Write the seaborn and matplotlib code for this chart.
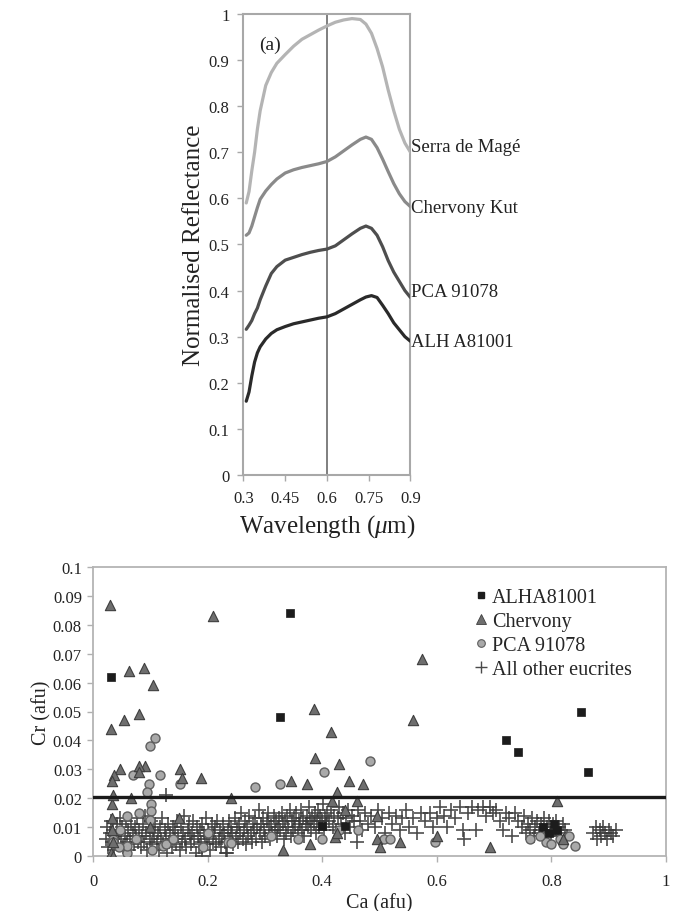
import numpy as np
import pandas as pd
import matplotlib
matplotlib.use("Agg")
import matplotlib.pyplot as plt
import seaborn as sns
from matplotlib.lines import Line2D

# ---------------- spectra (panel a) ----------------
wavelength = [0.31, 0.32, 0.33, 0.34, 0.35, 0.36, 0.38, 0.40, 0.42, 0.45, 0.48, 0.51,
              0.54, 0.57, 0.60, 0.63, 0.66, 0.69, 0.72, 0.74, 0.76, 0.78, 0.80, 0.82,
              0.84, 0.86, 0.88, 0.90]
serra_de_mage = [0.590, 0.615, 0.660, 0.700, 0.750, 0.790, 0.845, 0.873, 0.893, 0.912, 0.930, 0.945,
                 0.955, 0.965, 0.974, 0.982, 0.987, 0.990, 0.988, 0.978, 0.958, 0.925, 0.885, 0.835,
                 0.790, 0.750, 0.720, 0.700]
chervony_kut = [0.520, 0.525, 0.540, 0.560, 0.580, 0.598, 0.616, 0.630, 0.642, 0.655, 0.662, 0.667,
                0.671, 0.675, 0.680, 0.690, 0.703, 0.716, 0.728, 0.733, 0.728, 0.710, 0.685, 0.658,
                0.632, 0.610, 0.593, 0.582]
pca_91078 = [0.316, 0.325, 0.335, 0.350, 0.362, 0.380, 0.410, 0.437, 0.452, 0.466, 0.472, 0.478,
             0.483, 0.487, 0.490, 0.497, 0.510, 0.523, 0.535, 0.540, 0.535, 0.520, 0.495, 0.465,
             0.440, 0.420, 0.400, 0.385]
alh_a81001 = [0.160, 0.180, 0.215, 0.245, 0.265, 0.278, 0.295, 0.307, 0.315, 0.322, 0.328, 0.332,
              0.336, 0.340, 0.343, 0.350, 0.360, 0.370, 0.380, 0.386, 0.389, 0.385, 0.368, 0.350,
              0.330, 0.315, 0.300, 0.290]
spectra_names = ["Serra de Magé", "Chervony Kut", "PCA 91078", "ALH A81001"]
spectra_colors = ["#b4b4b4", "#8a8a8a", "#4e4e4e", "#2a2a2a"]
spectra_label_y = [0.712, 0.581, 0.399, 0.289]

# ---------------- Cr vs Ca (panel b) ----------------
alha_ca = [0.031, 0.343, 0.327, 0.851, 0.720, 0.742, 0.863, 0.399, 0.440,
           0.785, 0.795, 0.805, 0.810]
alha_cr = [0.062, 0.084, 0.048, 0.050, 0.040, 0.036, 0.029, 0.0105, 0.0105,
           0.010, 0.008, 0.011, 0.009]

chervony_ca = [0.030, 0.210, 0.062, 0.089, 0.105, 0.574, 0.559, 0.031, 0.054, 0.081, 0.386,
               0.415, 0.387, 0.429, 0.447, 0.471, 0.374, 0.346, 0.189, 0.152, 0.155, 0.090,
               0.080, 0.081, 0.047, 0.037, 0.033, 0.426, 0.033, 0.035, 0.066, 0.240, 0.417,
               0.460, 0.809, 0.033, 0.033, 0.035, 0.032, 0.034, 0.332, 0.379, 0.422, 0.425,
               0.495, 0.501, 0.536, 0.601, 0.692, 0.495, 0.440, 0.150, 0.100, 0.820, 0.800]
chervony_cr = [0.087, 0.083, 0.064, 0.065, 0.059, 0.068, 0.047, 0.044, 0.047, 0.049, 0.051,
               0.043, 0.034, 0.032, 0.026, 0.025, 0.025, 0.026, 0.027, 0.030, 0.027, 0.031,
               0.031, 0.029, 0.030, 0.028, 0.026, 0.022, 0.018, 0.021, 0.020, 0.020, 0.019,
               0.019, 0.019, 0.013, 0.009, 0.005, 0.001, 0.000, 0.002, 0.004, 0.0065, 0.008,
               0.006, 0.003, 0.005, 0.007, 0.003, 0.014, 0.016, 0.013, 0.010, 0.006, 0.009]

pca_ca = [0.109, 0.0995, 0.403, 0.483, 0.070, 0.117, 0.097, 0.152, 0.282, 0.326, 0.094,
          0.102, 0.102, 0.059, 0.081, 0.047, 0.100, 0.0345, 0.035, 0.059, 0.103, 0.122,
          0.128, 0.1925, 0.236, 0.241, 0.358, 0.399, 0.463, 0.507, 0.518, 0.597, 0.763,
          0.790, 0.800, 0.815, 0.820, 0.830, 0.841, 0.780, 0.060, 0.045, 0.075, 0.140,
          0.200, 0.310, 0.430]
pca_cr = [0.041, 0.038, 0.029, 0.033, 0.028, 0.028, 0.025, 0.025, 0.024, 0.025, 0.022,
          0.018, 0.0156, 0.014, 0.015, 0.009, 0.0125, 0.006, 0.005, 0.001, 0.002, 0.0035,
          0.004, 0.003, 0.0047, 0.0045, 0.006, 0.006, 0.009, 0.006, 0.006, 0.005, 0.006,
          0.005, 0.004, 0.006, 0.004, 0.007, 0.0036, 0.007, 0.0035, 0.003, 0.006, 0.006,
          0.008, 0.007, 0.009]

other_ca = [
    0.022, 0.025, 0.027, 0.029, 0.031, 0.033, 0.035, 0.037, 0.039, 0.041, 0.043, 0.045, 0.047, 0.049,
    0.051, 0.053, 0.055, 0.057, 0.059, 0.061, 0.063, 0.065, 0.067, 0.069, 0.071, 0.073, 0.075, 0.077, 0.079,
    0.081, 0.083, 0.085, 0.087, 0.089, 0.091, 0.093, 0.095, 0.097, 0.099, 0.101, 0.103, 0.105, 0.107, 0.109,
    0.111, 0.113, 0.115, 0.117, 0.119, 0.121, 0.123, 0.125, 0.127, 0.129, 0.131, 0.133, 0.135, 0.137, 0.139,
    0.141, 0.143, 0.145, 0.147, 0.149, 0.151, 0.153, 0.155, 0.157, 0.159, 0.161, 0.163, 0.165, 0.167, 0.169,
    0.171, 0.173, 0.175, 0.177, 0.179, 0.181, 0.183, 0.185, 0.187, 0.189, 0.191, 0.193, 0.195, 0.197, 0.199,
    0.201, 0.203, 0.205, 0.207, 0.209, 0.211, 0.213, 0.215, 0.217, 0.219, 0.221, 0.223, 0.225, 0.227, 0.229,
    0.231, 0.233, 0.235, 0.237, 0.239, 0.241, 0.243, 0.245, 0.247, 0.249, 0.251, 0.253, 0.255, 0.257, 0.259,
    0.261, 0.263, 0.265, 0.267, 0.269, 0.271, 0.273, 0.275, 0.277, 0.279, 0.281, 0.283, 0.285, 0.287, 0.289,
    0.291, 0.293, 0.295, 0.297, 0.299, 0.301, 0.303, 0.305, 0.307, 0.309, 0.311, 0.313, 0.315, 0.317, 0.319,
    0.321, 0.323, 0.325, 0.327, 0.329, 0.331, 0.333, 0.335, 0.337, 0.339, 0.341, 0.343, 0.345, 0.347, 0.349,
    0.351, 0.353, 0.355, 0.357, 0.359, 0.361, 0.363, 0.365, 0.367, 0.369, 0.371, 0.373, 0.375, 0.377, 0.379,
    0.381, 0.383, 0.385, 0.387, 0.389, 0.391, 0.393, 0.395, 0.397, 0.399, 0.401, 0.403, 0.405, 0.407, 0.409,
    0.412, 0.415, 0.418, 0.421, 0.424, 0.427, 0.430, 0.433, 0.436, 0.439, 0.442, 0.445, 0.448, 0.452, 0.456,
    0.462, 0.466, 0.470, 0.475, 0.480, 0.486, 0.492, 0.498, 0.505, 0.510, 0.516, 0.522, 0.528, 0.535, 0.540,
    0.546, 0.552, 0.558, 0.565, 0.572, 0.580, 0.588, 0.594, 0.600,
    0.605, 0.612, 0.618, 0.625, 0.632, 0.640, 0.645, 0.648, 0.655, 0.662, 0.668, 0.672, 0.680, 0.686,
    0.692, 0.698, 0.704, 0.710, 0.716, 0.720, 0.726, 0.732, 0.736, 0.742, 0.748, 0.752, 0.756,
    0.760, 0.763, 0.766, 0.769, 0.772, 0.775, 0.778, 0.781, 0.784, 0.787, 0.790, 0.793, 0.796, 0.799,
    0.802, 0.805, 0.808, 0.811, 0.814, 0.817, 0.820, 0.824, 0.828,
    0.873, 0.877, 0.880, 0.884, 0.887, 0.890, 0.893, 0.897, 0.900, 0.904, 0.908, 0.912,
    0.128, 0.460, 0.232, 0.190,
]
other_cr = [
    0.006, 0.010, 0.003, 0.008, 0.012, 0.005, 0.009, 0.002, 0.007, 0.011, 0.004, 0.008, 0.013, 0.006,
    0.010, 0.003, 0.007, 0.012, 0.005, 0.009, 0.002, 0.006, 0.011, 0.008, 0.004, 0.010, 0.007, 0.013, 0.005,
    0.009, 0.003, 0.007, 0.011, 0.005, 0.014, 0.008, 0.002, 0.010, 0.006, 0.012, 0.004, 0.009, 0.007, 0.011,
    0.005, 0.008, 0.002, 0.010, 0.006, 0.013, 0.004, 0.009, 0.007, 0.001, 0.011, 0.005, 0.008, 0.003, 0.010,
    0.006, 0.009, 0.004, 0.012, 0.007, 0.002, 0.010, 0.005, 0.008, 0.014, 0.006, 0.003, 0.009, 0.011, 0.007,
    0.004, 0.008, 0.012, 0.006, 0.001, 0.010, 0.007, 0.003, 0.009, 0.005, 0.011, 0.008, 0.006, 0.013, 0.004,
    0.009, 0.007, 0.002, 0.011, 0.005, 0.008, 0.010, 0.004, 0.012, 0.006, 0.009, 0.003, 0.007, 0.011, 0.008,
    0.005, 0.001, 0.009, 0.012, 0.006, 0.010, 0.008, 0.004, 0.013, 0.007, 0.010, 0.005, 0.011, 0.008, 0.015,
    0.006, 0.009, 0.012, 0.004, 0.010, 0.007, 0.014, 0.008, 0.005, 0.011, 0.009, 0.013, 0.006, 0.010, 0.016,
    0.008, 0.011, 0.005, 0.013, 0.009, 0.007, 0.012, 0.015, 0.010, 0.006, 0.011, 0.008, 0.014, 0.009, 0.012,
    0.007, 0.010, 0.013, 0.009, 0.015, 0.011, 0.006, 0.012, 0.008, 0.014, 0.010, 0.016, 0.007, 0.012, 0.009,
    0.013, 0.010, 0.015, 0.008, 0.012, 0.011, 0.016, 0.009, 0.013, 0.007, 0.011, 0.014, 0.010, 0.017, 0.012,
    0.009, 0.013, 0.011, 0.015, 0.008, 0.012, 0.016, 0.010, 0.014, 0.012, 0.018, 0.009, 0.013, 0.011, 0.015,
    0.012, 0.016, 0.010, 0.014, 0.009, 0.013, 0.017, 0.011, 0.015, 0.008, 0.013, 0.016, 0.010, 0.014, 0.012,
    0.016, 0.012, 0.009, 0.015, 0.011, 0.014, 0.010, 0.016, 0.013, 0.008, 0.015, 0.011, 0.014, 0.009, 0.013,
    0.016, 0.010, 0.013, 0.008, 0.015, 0.012, 0.015, 0.010, 0.013,
    0.017, 0.014, 0.010, 0.016, 0.013, 0.017, 0.009, 0.006, 0.015, 0.017, 0.009, 0.016, 0.017, 0.014,
    0.017, 0.015, 0.016, 0.012, 0.009, 0.015, 0.013, 0.007, 0.015, 0.012, 0.010, 0.014, 0.008,
    0.011, 0.009, 0.013, 0.007, 0.010, 0.012, 0.008, 0.011, 0.009, 0.013, 0.007, 0.010, 0.012, 0.008,
    0.011, 0.009, 0.012, 0.007, 0.010, 0.008, 0.011, 0.009, 0.007,
    0.008, 0.010, 0.006, 0.009, 0.007, 0.010, 0.008, 0.006, 0.009, 0.008, 0.007, 0.009,
    0.021, 0.005, 0.001, 0.000,
]
cr_threshold = 0.0205

series_names = ["ALHA81001", "Chervony", "PCA 91078", "All other eucrites"]

# ---------------- styling ----------------
sns.set_theme(style="white")
plt.rcParams["font.family"] = ["Liberation Serif", "DejaVu Serif"]
plt.rcParams["mathtext.fontset"] = "custom"
plt.rcParams["mathtext.rm"] = "Liberation Serif"
plt.rcParams["mathtext.it"] = "Liberation Serif:italic"

fig = plt.figure(figsize=(6.78, 9.12), dpi=100)
ax1 = fig.add_axes([0.3591, 0.4781, 0.2463, 0.5055])
ax2 = fig.add_axes([0.1372, 0.0603, 0.8451, 0.3169])

# ----- panel (a): spectra -----
spec = pd.DataFrame({
    "wavelength": wavelength * 4,
    "reflectance": serra_de_mage + chervony_kut + pca_91078 + alh_a81001,
    "sample": sum([[n] * len(wavelength) for n in spectra_names], []),
})
sns.lineplot(data=spec, x="wavelength", y="reflectance", hue="sample",
             palette=dict(zip(spectra_names, spectra_colors)), linewidth=2.3,
             legend=False, ax=ax1, zorder=3)
ax1.axvline(0.6, color="#6a6a6a", linewidth=1.2, zorder=2)
ax1.set_xlim(0.3, 0.9)
ax1.set_ylim(0, 1)
ax1.set_xticks([0.3, 0.45, 0.6, 0.75, 0.9])
ax1.set_xticklabels(["0.3", "0.45", "0.6", "0.75", "0.9"])
ax1.set_yticks(np.arange(0, 1.01, 0.1))
ax1.set_yticklabels(["0", "0.1", "0.2", "0.3", "0.4", "0.5", "0.6", "0.7", "0.8", "0.9", "1"])
ax1.tick_params(axis="both", direction="out", length=4, width=1, color="#a8a8a8",
                labelsize=12, labelcolor="#222222", bottom=True, left=True)
ax1.tick_params(axis="x", pad=7)
ax1.tick_params(axis="y", pad=6)
for s in ax1.spines.values():
    s.set_color("#a8a8a8")
    s.set_linewidth(1.5)
ax1.set_xlabel("Wavelength ($\\mu$m)", fontsize=18, color="#222222", labelpad=4)
ax1.set_ylabel("Normalised Reflectance", fontsize=18, color="#222222", labelpad=3)
ax1.text(0.395, 0.935, "(a)", fontsize=14, ha="center", va="center", color="#222222")
for name, yv in zip(spectra_names, spectra_label_y):
    ax1.text(0.903, yv, name, fontsize=13.5, ha="left", va="center", color="#222222",
             clip_on=False)

# ----- panel (b): Cr vs Ca -----
scatter_df = pd.DataFrame({
    "Ca": alha_ca + chervony_ca + pca_ca + other_ca,
    "Cr": alha_cr + chervony_cr + pca_cr + other_cr,
    "group": ([series_names[0]] * len(alha_ca) + [series_names[1]] * len(chervony_ca)
              + [series_names[2]] * len(pca_ca) + [series_names[3]] * len(other_ca)),
})
others = scatter_df[scatter_df["group"] == series_names[3]]
sns.scatterplot(data=others, x="Ca", y="Cr", marker="+", s=95, color="#3a3a3a",
                linewidth=1.2, alpha=0.9, ax=ax2, zorder=3, legend=False)
pca = scatter_df[scatter_df["group"] == series_names[2]]
sns.scatterplot(data=pca, x="Ca", y="Cr", marker="o", s=42, color="#a9a9a9",
                edgecolor="#5e5e5e", linewidth=1.0, ax=ax2, zorder=4, legend=False)
chv = scatter_df[scatter_df["group"] == series_names[1]]
sns.scatterplot(data=chv, x="Ca", y="Cr", marker="^", s=55, color="#6e6e6e",
                edgecolor="#3e3e3e", linewidth=0.8, ax=ax2, zorder=5, legend=False)
alh = scatter_df[scatter_df["group"] == series_names[0]]
sns.scatterplot(data=alh, x="Ca", y="Cr", marker="s", s=26, color="#1c1c1c",
                edgecolor="#1c1c1c", linewidth=0.5, ax=ax2, zorder=6, legend=False)
ax2.axhline(cr_threshold, color="#1a1a1a", linewidth=2.4, zorder=7)

ax2.set_xlim(0, 1)
ax2.set_ylim(0, 0.1)
ax2.set_xticks([0, 0.2, 0.4, 0.6, 0.8, 1.0])
ax2.set_xticklabels(["0", "0.2", "0.4", "0.6", "0.8", "1"])
ax2.set_yticks(np.arange(0, 0.1001, 0.01))
ax2.set_yticklabels(["0", "0.01", "0.02", "0.03", "0.04", "0.05", "0.06", "0.07",
                     "0.08", "0.09", "0.1"])
ax2.tick_params(axis="both", direction="out", length=4, width=1, color="#b0b0b0",
                labelsize=12, labelcolor="#222222", bottom=True, left=True)
ax2.tick_params(axis="x", pad=8)
ax2.tick_params(axis="y", pad=4)
for s in ax2.spines.values():
    s.set_color("#b4b4b4")
    s.set_linewidth(1.3)
ax2.set_xlabel("Ca (afu)", fontsize=14.5, color="#222222", labelpad=3)
ax2.set_ylabel("Cr (afu)", fontsize=14.5, color="#222222", labelpad=1)

handles = [
    Line2D([], [], linestyle="", marker="s", markersize=5, color="#1c1c1c"),
    Line2D([], [], linestyle="", marker="^", markersize=7, color="#6e6e6e",
           markeredgecolor="#3e3e3e", markeredgewidth=0.6),
    Line2D([], [], linestyle="", marker="o", markersize=5.5, color="#a9a9a9",
           markeredgecolor="#5e5e5e", markeredgewidth=0.8),
    Line2D([], [], linestyle="", marker="+", markersize=8, color="#4a4a4a",
           markeredgewidth=1.0),
]
ax2.legend(handles, series_names, loc="upper left", bbox_to_anchor=(0.652, 0.955),
           frameon=False, fontsize=14.5, handlelength=0.6, handletextpad=0.25,
           labelspacing=0.24, borderaxespad=0)

fig.savefig("out.png", dpi=100)
